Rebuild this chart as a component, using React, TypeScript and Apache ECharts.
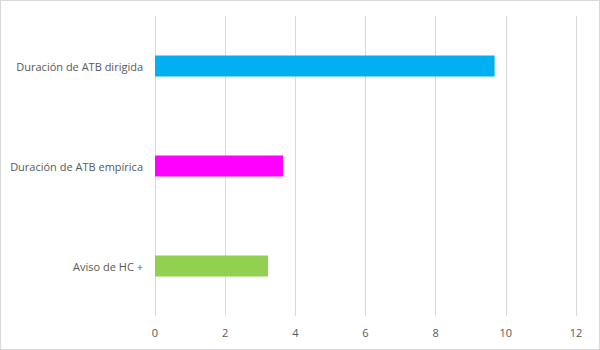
import React, { useEffect, useRef } from "react";
import * as echarts from "echarts";

const categories = ["Aviso de HC +", "Duración de ATB empírica", "Duración de ATB dirigida"];
const values = [3.22, 3.65, 9.68];
const colors = ["#92D050", "#FF00FF", "#00B0F0"];
const xTicks = [0, 2, 4, 6, 8, 10, 12];

export default function App() {
  const ref = useRef<HTMLDivElement>(null);
  useEffect(() => {
    const chart = echarts.init(ref.current!, null, { renderer: "svg" });
    chart.setOption({
      animation: false,
      grid: { left: 154, right: 23, top: 15, bottom: 33, containLabel: false, outerBoundsMode: "none" },
      xAxis: {
        type: "value",
        min: xTicks[0],
        max: xTicks[xTicks.length - 1],
        interval: 2,
        axisLine: { show: false },
        axisTick: { show: false },
        splitLine: { lineStyle: { color: "#d9d9d9", width: 1 } },
        axisLabel: { color: "#595959", fontSize: 11, fontFamily: "Open Sans", margin: 11 },
      },
      yAxis: {
        type: "category",
        data: categories,
        axisLine: { show: false },
        axisTick: { show: false },
        axisLabel: { color: "#595959", fontSize: 11, fontFamily: "Open Sans", margin: 12 },
      },
      series: [
        {
          type: "bar",
          barWidth: 21,
          data: values.map((v, i) => ({ value: v, itemStyle: { color: colors[i] } })),
        },
      ],
    });
    return () => chart.dispose();
  }, []);
  return (
    <div
      style={{
        position: "fixed",
        left: 0,
        top: 0,
        width: 600,
        height: 350,
        boxSizing: "border-box",
        border: "1px solid #d9d9d9",
        background: "#fff",
      }}
    >
      <div ref={ref} style={{ width: 598, height: 348 }} />
    </div>
  );
}
